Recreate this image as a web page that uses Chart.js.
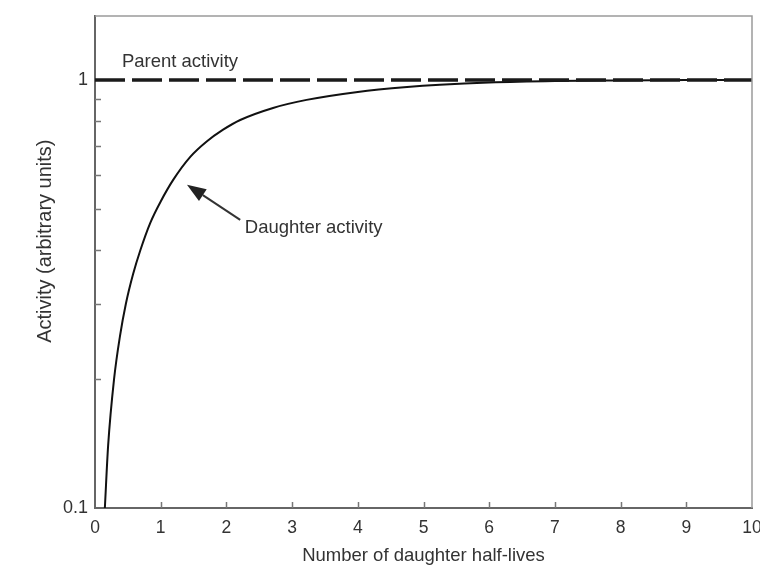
<!DOCTYPE html>
<html>
<head>
<meta charset="utf-8">
<title>Parent and daughter activity</title>
<script src="https://cdn.jsdelivr.net/npm/chart.js@4.4.0/dist/chart.umd.min.js"></script>
<style>
  html, body { margin: 0; padding: 0; background: #fff; }
  #wrap { width: 760px; height: 568px; }
</style>
</head>
<body>
<div id="wrap"><canvas id="chart" width="760" height="568"></canvas></div>
<script>
// daughter activity vs. elapsed daughter half-lives
const halfLives = [0.15, 0.2, 0.29, 0.38, 0.47, 0.58, 0.69, 0.84, 1.0, 1.19, 1.45, 1.7, 1.95, 2.21, 2.71, 3.22, 4.0, 4.75, 5.25, 6, 7, 8, 9, 10];
const daughterActivity = [0.1, 0.14, 0.2, 0.252, 0.3, 0.352, 0.4, 0.463, 0.52, 0.584, 0.661, 0.718, 0.765, 0.806, 0.86, 0.898, 0.937, 0.962, 0.974, 0.986, 0.994, 0.997, 0.999, 1.0];

// parent stays flat
const parentX = [0, 10];
const parentActivity = [1, 1];

const yTicks = [0.1, 0.2, 0.3, 0.4, 0.5, 0.6, 0.7, 0.8, 0.9, 1];
const yLabelled = [0.1, 1];
const xTicks = [0, 1, 2, 3, 4, 5, 6, 7, 8, 9, 10];

const FONT = '"Liberation Sans", Arial, Helvetica, sans-serif';
const TEXT = '#333';

function toPoints(xs, ys) {
  return xs.map((x, i) => ({ x: x, y: ys[i] }));
}

// short inward tick marks, the light top/right frame, y title, labels + arrow
const decorations = {
  id: 'decorations',
  afterDraw(chart) {
    const ctx = chart.ctx;
    const a = chart.chartArea;
    const xs = chart.scales.x;
    const ys = chart.scales.y;
    ctx.save();

    // top and right edges of the box
    ctx.strokeStyle = '#9a9a9a';
    ctx.lineWidth = 1.5;
    ctx.beginPath();
    ctx.moveTo(a.left, a.top);
    ctx.lineTo(a.right, a.top);
    ctx.lineTo(a.right, a.bottom);
    ctx.stroke();

    // tick marks pointing into the plot
    ctx.strokeStyle = '#777';
    ctx.lineWidth = 1.5;
    ctx.beginPath();
    xTicks.slice(1, -1).forEach((v) => {
      const px = Math.round(xs.getPixelForValue(v)) + 0.5;
      ctx.moveTo(px, a.bottom);
      ctx.lineTo(px, a.bottom - 6);
    });
    yTicks.slice(1, -1).forEach((v) => {
      const py = Math.round(ys.getPixelForValue(v)) + 0.5;
      ctx.moveTo(a.left, py);
      ctx.lineTo(a.left + 6, py);
    });
    ctx.stroke();

    ctx.fillStyle = TEXT;
    ctx.textBaseline = 'middle';

    // y axis title, rotated
    ctx.save();
    ctx.translate(45, ys.getPixelForValue(0.42));
    ctx.rotate(-Math.PI / 2);
    ctx.textAlign = 'center';
    ctx.font = '20px ' + FONT;
    ctx.fillText('Activity (arbitrary units)', 0, 0);
    ctx.restore();

    ctx.font = '18.5px ' + FONT;
    ctx.textAlign = 'left';
    ctx.fillText('Parent activity', xs.getPixelForValue(0.41), ys.getPixelForValue(1.1));
    ctx.fillText('Daughter activity', xs.getPixelForValue(2.28), ys.getPixelForValue(0.452));

    // arrow pointing at the daughter curve
    const tipX = xs.getPixelForValue(1.4), tipY = ys.getPixelForValue(0.569);
    const tailX = xs.getPixelForValue(2.21), tailY = ys.getPixelForValue(0.471);
    const ang = Math.atan2(tipY - tailY, tipX - tailX);
    const headLen = 19, headHalf = 7;
    const baseX = tipX - headLen * Math.cos(ang), baseY = tipY - headLen * Math.sin(ang);
    ctx.strokeStyle = '#333';
    ctx.lineWidth = 2;
    ctx.beginPath();
    ctx.moveTo(tailX, tailY);
    ctx.lineTo(baseX, baseY);
    ctx.stroke();
    ctx.fillStyle = '#222';
    ctx.beginPath();
    ctx.moveTo(tipX, tipY);
    ctx.lineTo(baseX + headHalf * Math.sin(ang), baseY - headHalf * Math.cos(ang));
    ctx.lineTo(baseX - headHalf * Math.sin(ang), baseY + headHalf * Math.cos(ang));
    ctx.closePath();
    ctx.fill();

    ctx.restore();
  }
};

new Chart(document.getElementById('chart'), {
  type: 'line',
  data: {
    datasets: [
      {
        label: 'Parent activity',
        data: toPoints(parentX, parentActivity),
        borderColor: '#1a1a1a',
        borderWidth: 3.5,
        borderDash: [30, 7],
        pointRadius: 0,
        fill: false
      },
      {
        label: 'Daughter activity',
        data: toPoints(halfLives, daughterActivity),
        borderColor: '#111',
        borderWidth: 2,
        pointRadius: 0,
        cubicInterpolationMode: 'monotone',
        fill: false
      }
    ]
  },
  options: {
    responsive: false,
    animation: false,
    devicePixelRatio: 1,
    layout: { padding: { top: 16, right: 8, left: 0, bottom: 0 } },
    plugins: {
      legend: { display: false },
      tooltip: { enabled: false }
    },
    scales: {
      x: {
        type: 'linear',
        min: 0,
        max: 10,
        afterFit: (scale) => {
          scale.height = 60;
          scale.paddingLeft = 0;
          scale.paddingRight = 0;
        },
        afterBuildTicks: (scale) => { scale.ticks = xTicks.map((v) => ({ value: v })); },
        grid: { display: false, drawTicks: false },
        border: { display: true, color: '#666', width: 2 },
        ticks: { color: '#333', font: { family: FONT, size: 17.5 }, padding: 10, maxRotation: 0 },
        title: {
          display: true,
          text: 'Number of daughter half-lives',
          color: TEXT,
          font: { family: FONT, size: 18.5 },
          padding: { top: 0, bottom: 1 }
        }
      },
      y: {
        type: 'logarithmic',
        min: 0.1,
        max: 1.41,
        afterFit: (scale) => {
          scale.width = 95;
          scale.paddingTop = 0;
          scale.paddingBottom = 0;
        },
        afterBuildTicks: (scale) => { scale.ticks = yTicks.map((v) => ({ value: v })); },
        grid: { display: false, drawTicks: false },
        border: { display: true, color: '#666', width: 2 },
        ticks: {
          color: '#333',
          font: { family: FONT, size: 18 },
          padding: 7,
          autoSkip: false,
          callback: (v) => (yLabelled.includes(v) ? String(v) : '')
        }
      }
    }
  },
  plugins: [decorations]
});
</script>
</body>
</html>
